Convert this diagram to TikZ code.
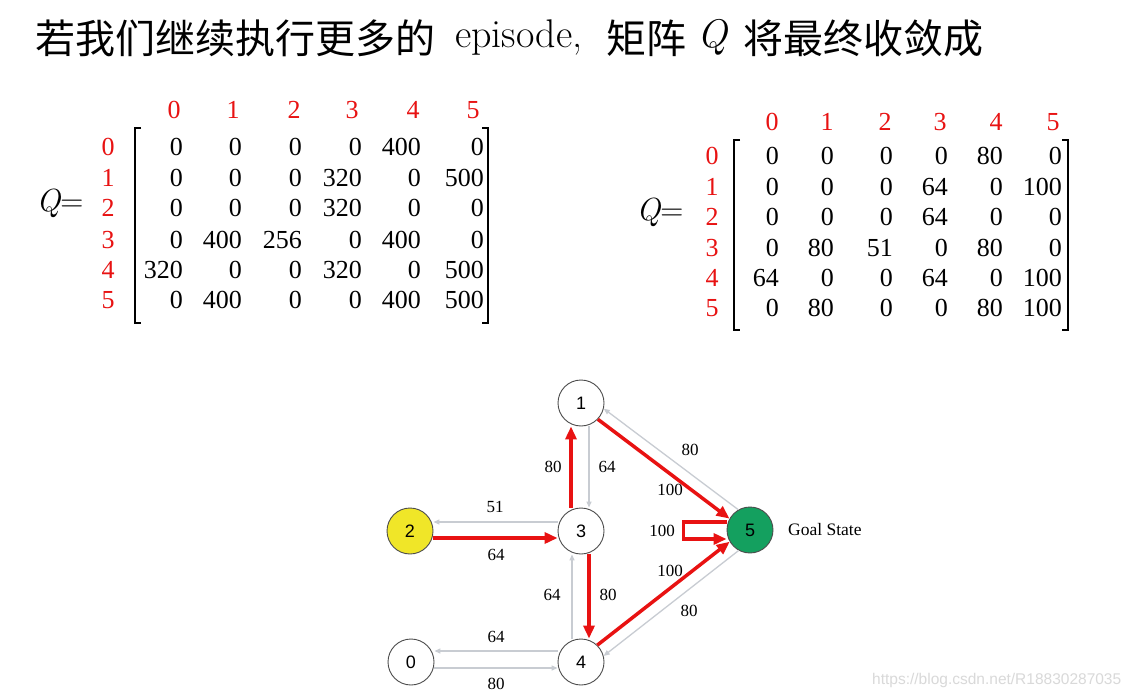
\documentclass[tikz,border=0pt]{standalone}
\usepackage{fontspec}
\newfontfamily\cjk{Noto Sans CJK SC}
\newfontfamily\tnr{Liberation Serif}
\newfontfamily\arialf{Liberation Sans}
\usetikzlibrary{arrows.meta}
\definecolor{qred}{RGB}{232,18,18}
\definecolor{lgray}{RGB}{200,204,210}
\definecolor{nyellow}{RGB}{240,230,40}
\definecolor{ngreen}{RGB}{20,160,95}
\tikzset{
  cjktxt/.style={anchor=base west, inner sep=0, font=\cjk\fontsize{40}{40}\selectfont},
  lattxt/.style={anchor=base west, inner sep=0, font=\fontsize{40}{40}\selectfont},
  mat/.style={anchor=east, inner sep=0, font=\tnr\fontsize{26}{26}\selectfont},
  idx/.style={inner sep=0, text=qred, font=\tnr\fontsize{26}{26}\selectfont},
  qeq/.style={inner sep=0, font=\fontsize{32}{32}\selectfont},
  brk/.style={line width=2pt, line join=miter},
  gnode/.style={circle, draw=black!70, line width=0.9pt, minimum size=46pt, inner sep=0, font=\arialf\fontsize{18}{18}\selectfont},
  redarr/.style={draw=qred, line width=3.5pt, line join=miter, -{Triangle[length=13pt,width=11pt]}},
  grayarr/.style={draw=lgray, line width=1.3pt, -{Triangle[length=6pt,width=5pt]}},
  lbl/.style={inner sep=0, font=\tnr\fontsize{17}{17}\selectfont},
}
\begin{document}
\begin{tikzpicture}[x=1pt,y=-1pt]
\fill[white] (0,0) rectangle (1135,698);
\useasboundingbox (0,0) rectangle (1135,698);

% title
\node[cjktxt] (t1) at (35,54) {若我们继续执行更多的};
\node[lattxt] (t2) at (455,48) {episode,};
\node[cjktxt] (t3) at (606,54) {矩阵};
\node[lattxt] (t4) at (697,48) {\itshape Q};
\node[cjktxt] (t5) at (743,54) {将最终收敛成};

% left matrix
\node[qeq] (qL) at (60,203) {\itshape Q\upshape=};
\foreach \h [count=\c from 0] in {174,233,294,352,413,473} {
  \node[idx] (LH\c) at (\h,110) {\c};
}
\foreach \v [count=\r from 0] in {147,178,208,240,270,300} {
  \node[idx] (LR\r) at (108,\v) {\r};
}
\foreach \row [count=\r from 0] in {{0,0,0,0,400,0},{0,0,0,320,0,500},{0,0,0,320,0,0},{0,400,256,0,400,0},{320,0,0,320,0,500},{0,400,0,0,400,500}} {
  \foreach \e [count=\c from 0] in \row {
    \pgfmathsetmacro\xx{{183,242,302,362,421,484}[\c]}
    \pgfmathsetmacro\yy{{147,178,208,240,270,300}[\r]}
    \node[mat] (L\r\c) at (\xx,\yy) {\e};
  }
}
\draw[brk] (141,128) -- (135,128) -- (135,323) -- (141,323);
\draw[brk] (482,128) -- (488,128) -- (488,323) -- (482,323);

% right matrix
\node[qeq] (qR) at (660,212) {\itshape Q\upshape=};
\foreach \h [count=\c from 0] in {772,827,885,940,996,1053} {
  \node[idx] (RH\c) at (\h,122) {\c};
}
\foreach \v [count=\r from 0] in {156,187,217,248,278,308} {
  \node[idx] (RR\r) at (712,\v) {\r};
}
\foreach \row [count=\r from 0] in {{0,0,0,0,80,0},{0,0,0,64,0,100},{0,0,0,64,0,0},{0,80,51,0,80,0},{64,0,0,64,0,100},{0,80,0,0,80,100}} {
  \foreach \e [count=\c from 0] in \row {
    \pgfmathsetmacro\xx{{779,834,893,948,1003,1062}[\c]}
    \pgfmathsetmacro\yy{{156,187,217,248,278,308}[\r]}
    \node[mat] (R\r\c) at (\xx,\yy) {\e};
  }
}
\draw[brk] (740,140) -- (734,140) -- (734,330) -- (740,330);
\draw[brk] (1062,140) -- (1068,140) -- (1068,330) -- (1062,330);

% graph nodes
\node[gnode] (n1) at (581,403) {1};
\node[gnode, fill=nyellow] (n2) at (410,531) {2};
\node[gnode] (n3) at (581,531) {3};
\node[gnode, fill=ngreen] (n5) at (750,530) {5};
\node[gnode] (n0) at (411,662) {0};
\node[gnode] (n4) at (581,662) {4};
\node[lbl, anchor=west, font=\tnr\fontsize{17.5}{18}\selectfont] (goal) at (788,530) {Goal State};

% edges 1-3
\draw[redarr] ([xshift=-10pt]n3.north) -- ([xshift=-10pt]n1.south);
\draw[grayarr] ([xshift=8pt]n1.south) -- ([xshift=8pt]n3.north);
\node[lbl] (e31) at (553,467) {80};
\node[lbl] (e13) at (607,467) {64};
% edges 2-3
\draw[grayarr] ([yshift=9pt]n3.west) -- ([yshift=9pt]n2.east);
\draw[redarr] ([yshift=-7pt]n2.east) -- ([yshift=-7pt]n3.west);
\node[lbl] (e32) at (495,507) {51};
\node[lbl] (e23) at (496,555) {64};
% edges 3-4
\draw[redarr] ([xshift=8pt]n3.south) -- ([xshift=8pt]n4.north);
\draw[grayarr] ([xshift=-9pt]n4.north) -- ([xshift=-9pt]n3.south);
\node[lbl] (e43) at (552,595) {64};
\node[lbl] (e34) at (608,595) {80};
% edges 0-4
\draw[grayarr] ([yshift=11pt]n4.west) -- ([yshift=11pt]n0.east);
\draw[grayarr] ([yshift=-6pt]n0.east) -- ([yshift=-6pt]n4.west);
\node[lbl] (e40) at (496,637) {64};
\node[lbl] (e04) at (496,684) {80};
% edges 1-5
\draw[grayarr] (n5.120) -- (n1.-14);
\draw[redarr] (n1.-44) -- (n5.151);
\node[lbl] (e51) at (690,450) {80};
\node[lbl] (e15) at (670,490) {100};
% edges 4-5
\draw[grayarr] (n5.241) -- (n4.15);
\draw[redarr] (n4.46) -- (n5.210);
\node[lbl] (e45) at (670,571) {100};
\node[lbl] (e54) at (689,611) {80};
% self loop
\draw[redarr] ([yshift=8pt]n5.west) -- ++(-43,0) -- ++(0,17) -- ([yshift=-9pt]n5.west);
\node[lbl] (e55) at (662,531) {100};

% watermark
\node[anchor=west, inner sep=0, text=black!15, font=\arialf\fontsize{15.5}{16}\selectfont] (wm) at (872,680) {https://blog.csdn.net/R18830287035};
\end{tikzpicture}
\end{document}
